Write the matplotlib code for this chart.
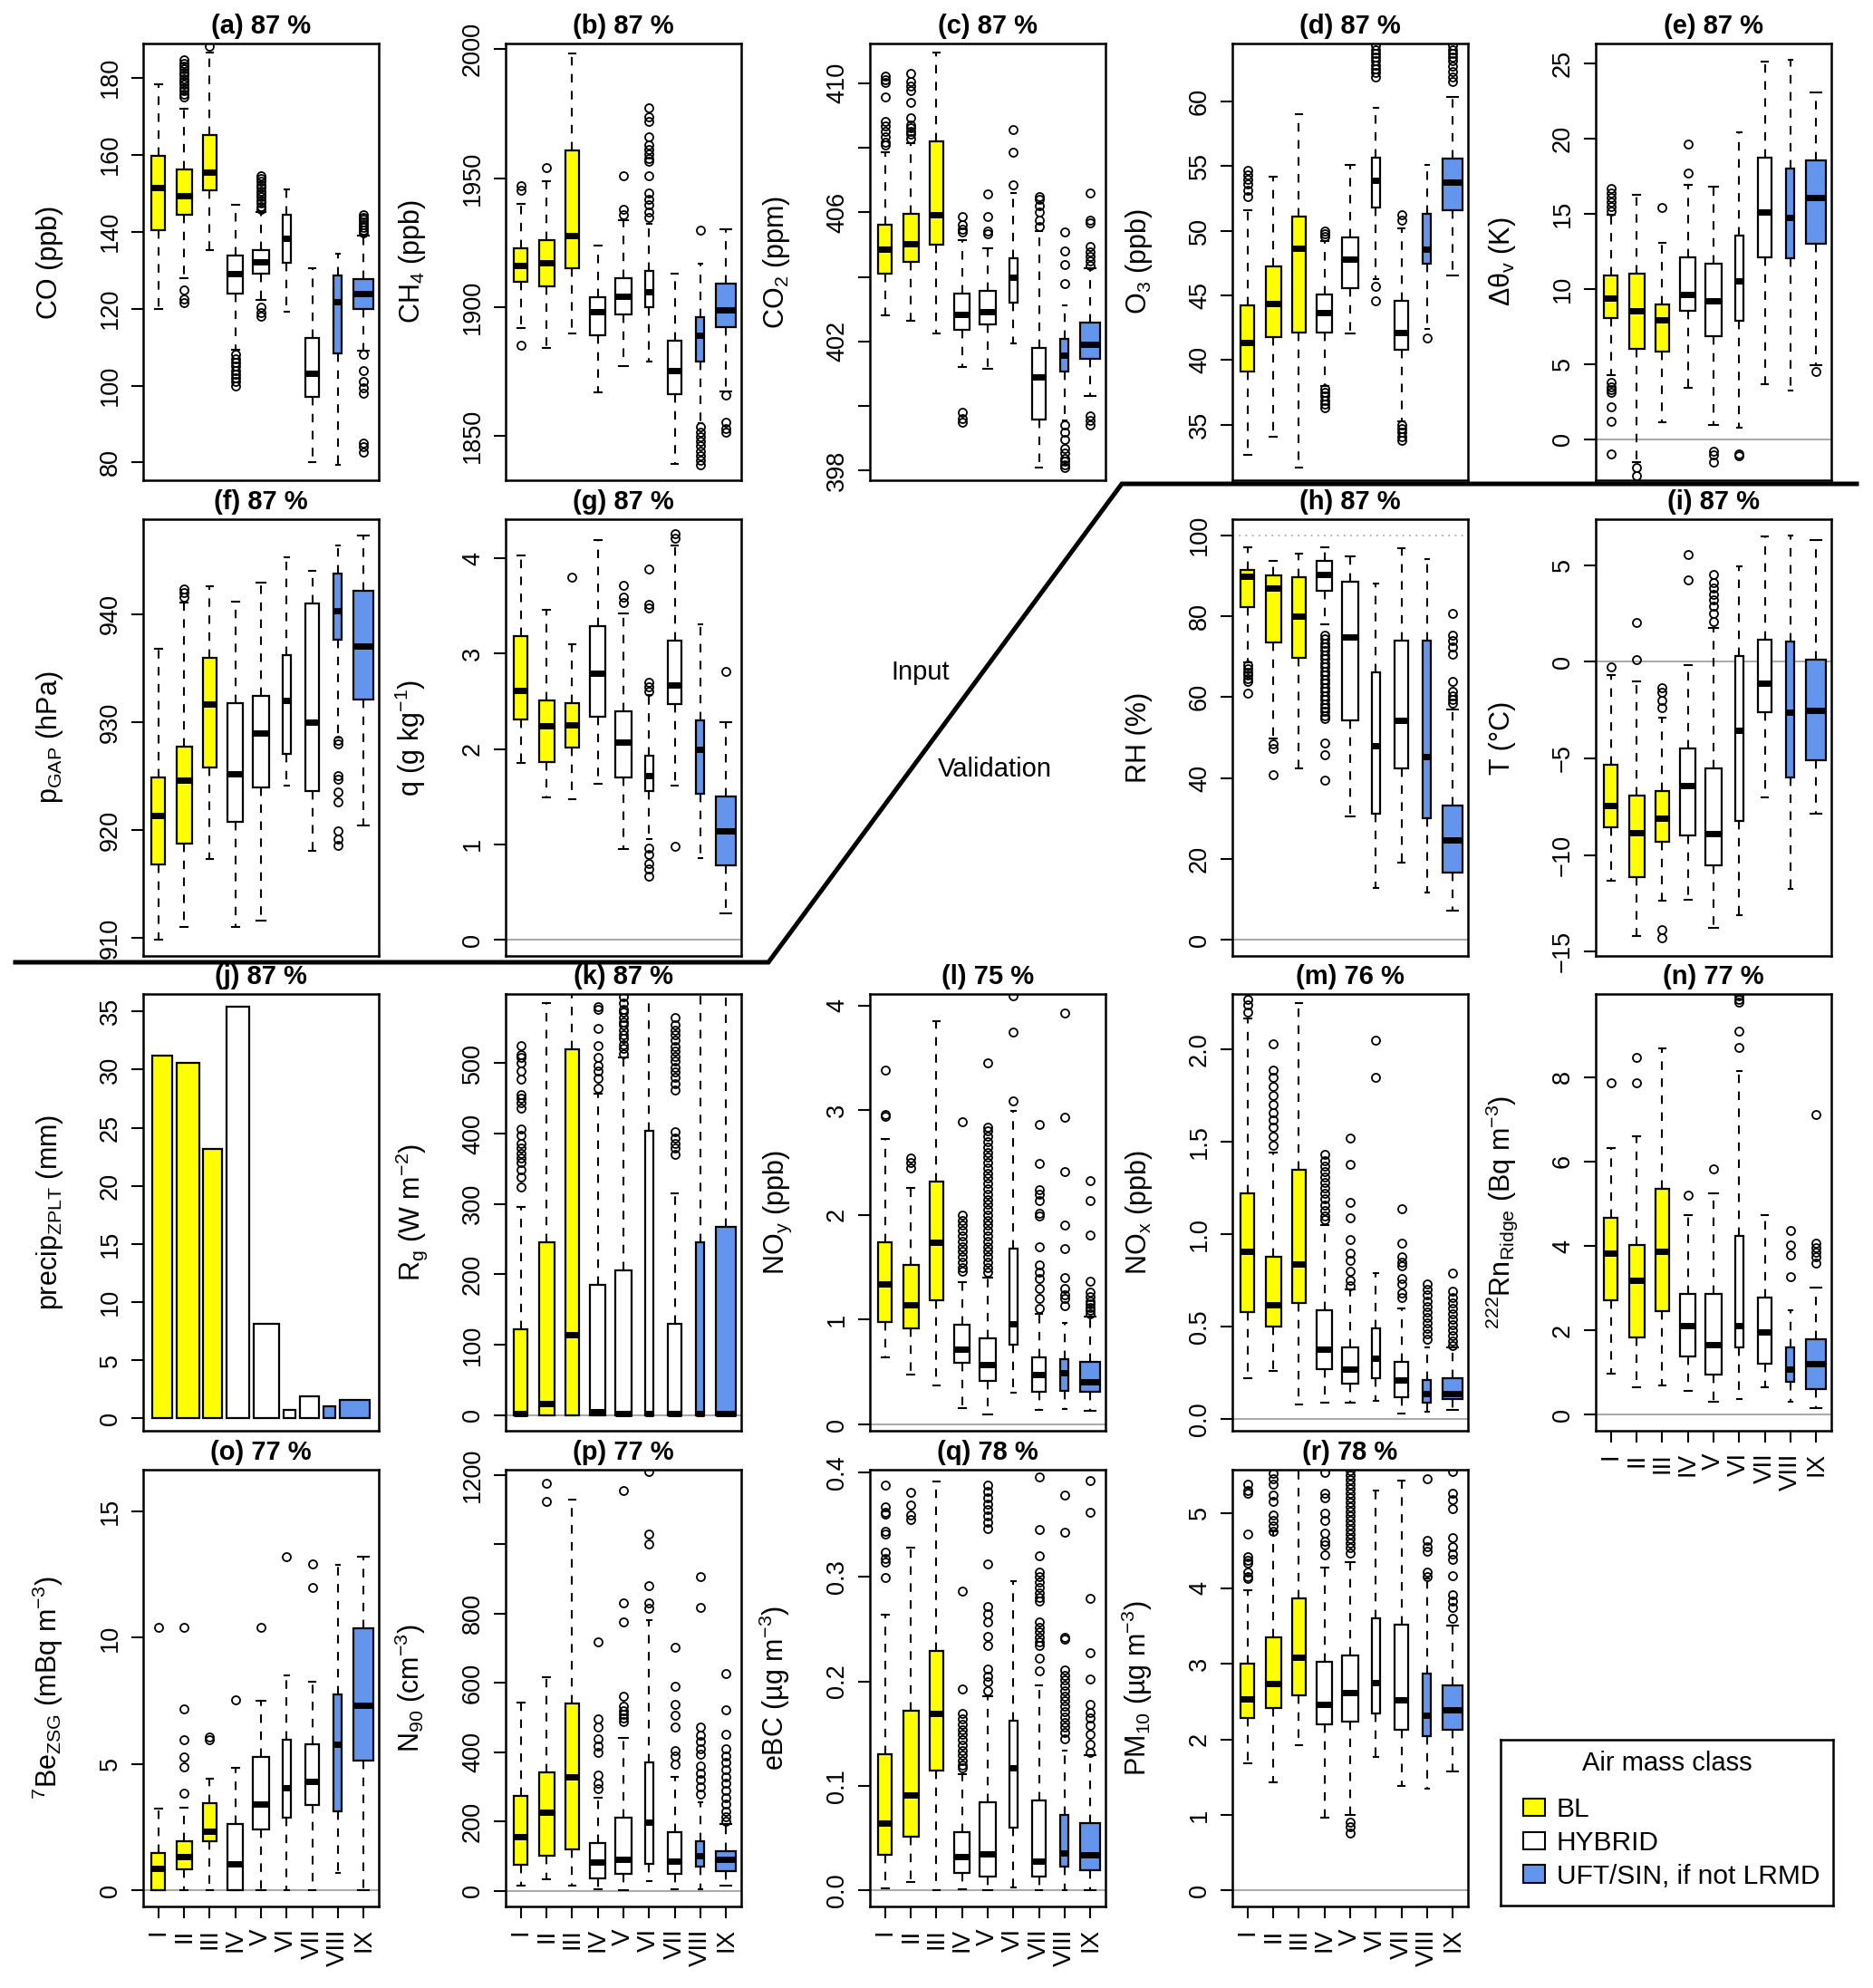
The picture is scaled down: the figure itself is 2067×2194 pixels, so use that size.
import numpy as np
import matplotlib
matplotlib.use("Agg")
import matplotlib.pyplot as plt
from matplotlib.lines import Line2D
from matplotlib.patches import Patch

plt.rcParams['font.family'] = ['Liberation Sans', 'DejaVu Sans']
plt.rcParams['mathtext.fontset'] = 'custom'
plt.rcParams['mathtext.rm'] = 'Liberation Sans'
plt.rcParams['mathtext.it'] = 'Liberation Sans:italic'
plt.rcParams['mathtext.bf'] = 'Liberation Sans:bold'

# ---------------- data ----------------
classes = ["I", "II", "III", "IV", "V", "VI", "VII", "VIII", "IX"]
class_color = ["#FFFF00"] * 3 + ["#FFFFFF"] * 4 + ["#6495ED"] * 2
class_width = [0.66, 0.74, 0.63, 0.74, 0.84, 0.41, 0.63, 0.39, 1.0]   # relative (sqrt n)
legend_names = ["BL", "HYBRID", "UFT/SIN, if not LRMD"]

# each box: (whisker low, Q1, median, Q3, whisker high)
co_stats = [(120.0, 140.5, 151.4, 159.6, 178.4), (127.9, 144.5, 149.3, 156.2, 171.9),
            (135.2, 150.7, 155.5, 165.2, 186.5), (109.3, 123.9, 129.2, 133.9, 147.0),
            (122.3, 129.2, 132.1, 135.2, 145.1), (119.3, 132.0, 138.2, 144.5, 151.0),
            (80.2, 97.0, 103.1, 112.4, 130.4), (79.4, 108.4, 121.9, 128.6, 134.2),
            (109.0, 120.0, 124.0, 127.7, 138.9)]
co_out = [[], [175.0, 175.8, 176.6, 177.4, 178.2, 179.0, 179.8, 180.6, 181.4, 182.2, 183.0, 183.8, 184.6, 124.8, 122.4, 121.6],
          [188.2], [108.2, 107.0, 106.0, 105.0, 104.0, 103.0, 102.0, 101.0, 100.0],
          [145.8, 146.6, 147.4, 148.2, 149.0, 149.8, 150.6, 151.4, 152.2, 153.0, 153.8, 154.5, 120.4, 119.0, 118.0],
          [], [], [], [139.6, 140.3, 141.0, 141.7, 142.4, 143.1, 143.8, 144.3, 108.2, 103.8, 101.0, 99.5, 97.9, 85.1, 84.0, 82.7]]

ch4_stats = [(1892, 1909.9, 1916, 1922.8, 1939.9), (1884.2, 1908.1, 1917.1, 1925.8, 1948.7),
             (1889.9, 1915.1, 1927.8, 1960.9, 1998.5), (1867, 1889, 1898.1, 1903.8, 1923.9),
             (1877, 1897, 1904.2, 1911, 1933.8), (1878.8, 1900, 1906, 1914.1, 1932.4),
             (1839.2, 1866.1, 1875.2, 1886.9, 1912.9), (1855, 1879, 1889.1, 1896, 1916.9),
             (1867.3, 1892.1, 1899, 1909, 1930)]
ch4_out = [[1947.1, 1945.3, 1885], [1954.2], [], [], [1951, 1938, 1935.6],
           [1977.4, 1973.8, 1972, 1966, 1963, 1961.2, 1959.4, 1957.6, 1956.4, 1951, 1944.3, 1941.9, 1939.5, 1937, 1934.6],
           [], [1929.8, 1853.4, 1851.5, 1849.7, 1847.9, 1846, 1844.2, 1842.4, 1840.6, 1838.9],
           [1866, 1855.2, 1852.7, 1851.5]]

co2_stats = [(402.82, 404.1, 404.85, 405.62, 407.85), (402.63, 404.46, 405.04, 405.96, 408.14),
             (402.24, 405.0, 405.93, 408.21, 410.94), (401.2, 402.37, 402.84, 403.47, 405.14),
             (401.15, 402.53, 402.92, 403.57, 404.88), (401.95, 403.19, 404.0, 404.59, 406.6),
             (398.09, 399.58, 400.89, 401.8, 405.43), (399.54, 401.08, 401.58, 402.08, 403.11),
             (400.31, 401.47, 401.9, 402.58, 404.27)]
co2_out = [[410.21, 410.12, 410.02, 409.58, 408.81, 408.67, 408.52, 408.33, 408.18, 408.09],
           [410.29, 410.05, 409.92, 409.78, 409.41, 408.93, 408.71, 408.62, 408.52, 408.43, 408.28],
           [], [405.86, 405.62, 405.48, 405.38, 399.8, 399.6, 399.5],
           [406.57, 405.86, 405.43, 405.33], [408.57, 407.87, 406.86],
           [406.5, 406.4, 406.2, 406.0, 405.75, 405.55],
           [405.38, 404.8, 404.37, 403.79, 399.4, 399.2, 398.96, 398.67, 398.53, 398.38, 398.29, 398.19, 398.09],
           [406.6, 405.76, 405.66, 404.93, 404.78, 404.64, 404.49, 404.35, 399.68, 399.54, 399.4]]

o3_stats = [(32.7, 39.1, 41.33, 44.22, 51.57), (34.1, 41.8, 44.34, 47.23, 54.17),
            (31.69, 42.1, 48.67, 51.08, 58.99), (38.0, 42.1, 43.66, 45.06, 49.2),
            (42.05, 45.54, 47.83, 49.47, 55.06), (46.27, 51.8, 53.9, 55.61, 59.52),
            (35.3, 40.77, 42.1, 44.6, 50.2), (42.41, 47.47, 48.55, 51.28, 55.06),
            (46.55, 51.61, 53.73, 55.59, 60.36)]
o3_out = [[54.63, 54.34, 53.98, 53.61, 53.13, 52.65], [], [],
          [50.0, 49.76, 49.52, 37.8, 37.5, 37.2, 36.9, 36.6, 36.3], [],
          [64.3, 64.0, 63.7, 63.4, 63.1, 62.8, 62.5, 62.2, 61.9, 45.7, 44.6],
          [51.2, 50.8, 35.0, 34.7, 34.4, 34.1, 33.8], [41.7],
          [64.3, 64.0, 63.7, 63.4, 63.1, 62.7, 62.3, 61.9, 61.5]]

dth_stats = [(4.26, 8.06, 9.41, 10.87, 14.92), (-1.54, 5.99, 8.52, 11.03, 16.27),
             (1.14, 5.82, 7.96, 8.94, 13.05), (3.43, 8.54, 9.66, 12.12, 16.96),
             (0.96, 6.86, 9.2, 11.66, 16.83), (0.79, 7.9, 10.56, 13.53, 20.43),
             (3.64, 12.12, 15.13, 18.77, 25.15), (3.22, 12.07, 14.78, 18.04, 25.27),
             (4.94, 12.99, 16.1, 18.56, 23.09)]
dth_out = [[15.2, 15.5, 15.8, 16.1, 16.4, 16.7, 3.8, 3.5, 3.3, 3.1, 2.14, 1.16, -0.98],
           [-1.91, -2.43], [15.44], [19.64, 17.73], [-0.83, -1.08, -1.54], [-0.98, -1.12],
           [], [], [4.53]]

pgap_stats = [(909.85, 916.87, 921.39, 924.87, 936.79), (911.02, 918.74, 924.66, 927.74, 941.08),
              (917.35, 925.8, 931.64, 935.92, 942.58), (911.05, 920.79, 925.2, 931.73, 941.14),
              (911.65, 923.94, 929.0, 932.45, 942.94), (924.09, 927.05, 932.03, 936.22, 945.27),
              (918.06, 923.64, 930.0, 940.99, 944.02), (928.58, 937.63, 940.33, 943.72, 946.32),
              (920.46, 932.09, 937.03, 942.19, 947.31)]
pgap_out = [[], [941.6, 942.0, 942.3], [], [], [], [], [],
            [928.3, 928.0, 925.05, 924.75, 923.55, 922.65, 919.95, 919.2, 918.6], []]

q_stats = [(1.85, 2.31, 2.61, 3.18, 4.03), (1.49, 1.86, 2.24, 2.51, 3.46),
           (1.47, 2.02, 2.25, 2.48, 3.1), (1.64, 2.34, 2.79, 3.29, 4.19),
           (0.95, 1.7, 2.07, 2.4, 3.42), (1.06, 1.56, 1.72, 1.93, 2.57),
           (1.62, 2.47, 2.67, 3.14, 4.13), (0.86, 1.53, 2.0, 2.3, 3.31),
           (0.28, 0.78, 1.14, 1.5, 2.28)]
q_out = [[], [], [3.8], [], [3.72, 3.59, 3.54],
         [3.89, 3.52, 3.48, 2.7, 2.65, 2.6, 0.96, 0.89, 0.8, 0.74, 0.67],
         [4.26, 4.21, 0.98], [], [2.81]]

rh_stats = [(68.6, 82.23, 89.83, 91.43, 97.04), (49.8, 73.58, 86.87, 90.07, 93.67),
            (42.35, 69.82, 80.06, 89.67, 95.44), (78.06, 86.39, 90.23, 93.67, 97.04),
            (30.58, 54.2, 74.86, 88.47, 94.88), (12.73, 31.22, 47.96, 66.05, 88.07),
            (18.98, 42.35, 54.36, 73.98, 96.88), (11.77, 30.02, 45.4, 73.98, 94.08),
            (7.13, 16.57, 24.74, 33.23, 56.84)]
rh_out = [[68.0, 67.0, 66.2, 65.4, 64.6, 63.8, 61.0], [48.4, 47.4, 40.8], [],
          [75.4, 74.4, 73.4, 72.4, 71.4, 70.4, 69.4, 68.4, 67.4, 66.4, 65.4, 64.4, 63.4, 62.4,
           61.4, 60.4, 59.4, 58.4, 57.4, 56.4, 55.4, 54.6, 48.76, 45.8, 39.4],
          [], [], [], [], [80.6, 75.4, 74.0, 72.3, 70.7, 63.8, 61.4, 60.3, 59.5, 58.6]]

t_stats = [(-11.35, -8.58, -7.44, -5.31, -0.7), (-14.2, -11.14, -8.83, -6.94, -1.0),
           (-12.35, -9.3, -8.08, -6.7, -2.88), (-12.3, -8.97, -6.43, -4.47, -0.16),
           (-13.78, -10.56, -8.88, -5.51, 1.73), (-13.14, -8.24, -3.55, 0.28, 4.92),
           (-7.02, -2.63, -1.12, 1.14, 6.51), (-11.76, -5.98, -2.63, 1.03, 6.54),
           (-7.87, -5.09, -2.51, 0.09, 6.31)]
t_out = [[-0.25], [2.03, 0.09], [-1.34, -1.6, -2.0, -2.4, -13.86, -14.28], [5.54, 4.25],
         [4.5, 4.1, 3.8, 3.5, 3.2, 2.9, 2.5, 2.1], [], [], [], []]

precip_total = [31.2, 30.6, 23.15, 35.42, 8.12, 0.7, 1.89, 1.06, 1.61]

rg_stats = [(0, 0, 2, 121.4, 295.3), (0, 0, 15.6, 245.6, 585.0), (0, 0, 114.5, 519.3, 640),
            (0, 0, 4, 184.5, 457.2), (0, 0, 2, 205.2, 508.7), (0, 0, 2, 404.3, 640),
            (0, 0, 2, 129.7, 315.5), (0, 0, 2, 245.6, 640), (0, 0, 2, 267.7, 640)]
rg_out = [[525.3, 512.4, 507.8, 500.9, 489.4, 477.9, 454.9, 450.3, 443.4, 436.5, 406.6, 397.4,
           385.9, 379.0, 372.1, 365.2, 358.3, 349.1, 337.6, 323.8],
          [], [], [465, 478, 489.4, 496, 508, 525, 549, 577, 581],
          [595, 586, 577, 572, 565, 558, 554, 547, 540, 535, 526, 521, 514], [],
          [565, 554, 547, 540, 533, 524, 517, 510, 503, 494, 487, 480, 471, 462, 402, 393, 386, 379, 370],
          [], []]

noy_stats = [(0.64, 0.98, 1.34, 1.74, 2.73), (0.48, 0.92, 1.14, 1.52, 2.26),
             (0.37, 1.19, 1.74, 2.32, 3.85), (0.16, 0.59, 0.72, 0.95, 1.36),
             (0.1, 0.42, 0.57, 0.82, 1.4), (0.3, 0.76, 0.96, 1.68, 2.99),
             (0.14, 0.31, 0.48, 0.64, 1.06), (0.15, 0.32, 0.49, 0.62, 0.97),
             (0.13, 0.31, 0.41, 0.6, 1.03)]
noy_out = [[3.38, 2.96, 2.94], [2.54, 2.5, 2.45], [],
           [2.89, 2.0, 1.95, 1.9, 1.85, 1.8, 1.75, 1.7, 1.65, 1.6, 1.55, 1.5, 1.46],
           [3.45, 2.84, 2.8, 2.75, 2.7, 2.65, 2.6, 2.55, 2.5, 2.45, 2.4, 2.35, 2.3, 2.25, 2.2, 2.15,
            2.1, 2.05, 2.0, 1.95, 1.9, 1.85, 1.8, 1.75, 1.7, 1.65, 1.6, 1.55, 1.5, 1.45],
           [4.09, 3.75, 3.09],
           [2.86, 2.49, 2.24, 2.2, 2.14, 2.02, 1.99, 1.7, 1.52, 1.45, 1.39, 1.3, 1.2, 1.11],
           [3.93, 2.93, 2.41, 1.9, 1.68, 1.4, 1.3, 1.24, 1.2, 1.13],
           [2.33, 2.14, 1.81, 1.37, 1.26, 1.22, 1.18, 1.15, 1.12, 1.09, 1.06]]

nox_stats = [(0.22, 0.58, 0.91, 1.22, 2.17), (0.26, 0.5, 0.62, 0.88, 1.44),
             (0.08, 0.63, 0.84, 1.35, 2.25), (0.09, 0.27, 0.38, 0.59, 1.05),
             (0.09, 0.19, 0.27, 0.39, 0.7), (0.1, 0.22, 0.33, 0.49, 0.79),
             (0.03, 0.12, 0.21, 0.31, 0.6), (0.04, 0.09, 0.14, 0.21, 0.39),
             (0.05, 0.11, 0.14, 0.22, 0.39)]
nox_out = [[2.27, 2.24, 2.2], [2.03, 1.89, 1.85, 1.8, 1.75, 1.7, 1.66, 1.62, 1.58, 1.53, 1.48], [],
           [1.43, 1.4, 1.37, 1.34, 1.31, 1.28, 1.25, 1.22, 1.19, 1.16, 1.13, 1.1, 1.08],
           [1.52, 1.38, 1.17, 1.09, 0.97, 0.9, 0.86, 0.8, 0.75, 0.72], [2.05, 1.85],
           [1.14, 0.95, 0.88, 0.85, 0.83, 0.76, 0.73, 0.68, 0.66],
           [0.73, 0.7, 0.67, 0.64, 0.61, 0.58, 0.55, 0.52, 0.49, 0.46, 0.43],
           [0.79, 0.69, 0.66, 0.63, 0.6, 0.57, 0.54, 0.51, 0.48, 0.45, 0.42, 0.4]]

rn_stats = [(0.97, 2.71, 3.82, 4.66, 6.33), (0.65, 1.83, 3.19, 4.03, 6.6),
            (0.7, 2.45, 3.87, 5.35, 8.69), (0.56, 1.38, 2.11, 2.86, 4.74),
            (0.31, 0.96, 1.65, 2.86, 5.25), (0.37, 1.6, 2.12, 4.23, 8.15),
            (0.64, 1.21, 1.96, 2.77, 4.74), (0.31, 0.77, 1.08, 1.6, 2.48),
            (0.15, 0.6, 1.21, 1.79, 3.01)]
rn_out = [[7.86], [8.47, 7.86], [], [5.2], [5.83], [9.92, 9.85, 9.78, 9.09, 8.7], [],
          [4.36, 4.03, 3.78, 3.26], [7.12, 4.06, 3.95, 3.85, 3.75, 3.59]]

be7_stats = [(0, 0, 0.86, 1.48, 3.24), (0, 0.83, 1.35, 1.96, 3.28), (0, 1.94, 2.33, 3.44, 4.43),
             (0, 0, 1.06, 2.62, 4.84), (0, 2.42, 3.41, 5.28, 7.49), (0, 2.87, 4.07, 5.96, 8.49),
             (0, 3.37, 4.3, 5.77, 8.27), (0.69, 3.14, 5.79, 7.77, 12.87), (0, 5.15, 7.33, 10.39, 13.2)]
be7_out = [[10.4], [10.4, 7.18, 5.96, 5.28, 4.9, 3.86], [6.07, 5.96], [7.53], [10.4], [13.2],
           [12.93, 12.0], [], []]

n90_stats = [(14.9, 75.3, 156.6, 273.5, 543), (32.7, 102, 226, 343, 615.5),
             (14.9, 120, 330, 541, 1128), (6, 35.7, 82.3, 138.8, 270),
             (2, 49.6, 92, 211, 441), (27.8, 79.3, 199, 371.7, 781),
             (5, 50.5, 85, 169.5, 328), (6, 69.4, 102, 144.7, 255.7),
             (14.9, 57.5, 92, 114, 193)]
n90_out = [[], [1177, 1123], [], [719.5, 495.5, 473.8, 439, 418, 400, 335, 310, 295],
           [1155.6, 830.5, 776, 561, 533, 520, 510, 500, 488.6],
           [1210, 1028.7, 1002, 880, 830, 815],
           [701.7, 589.7, 538, 506, 474, 406, 390, 365],
           [907.8, 818.6, 474, 450, 430, 409, 394, 360, 340, 320, 300, 280],
           [627, 523, 451, 409, 390, 370, 350, 330, 310, 290, 270, 250, 230, 215, 201]]

ebc_stats = [(0.002, 0.034, 0.064, 0.130, 0.264), (0.008, 0.051, 0.091, 0.172, 0.328),
             (0.0, 0.115, 0.169, 0.229, 0.391), (0.001, 0.017, 0.032, 0.056, 0.111),
             (0.0, 0.0135, 0.035, 0.084, 0.186), (0.003, 0.06, 0.117, 0.162, 0.296),
             (0.0, 0.013, 0.028, 0.086, 0.196), (0.0, 0.023, 0.036, 0.072, 0.134),
             (0.0, 0.019, 0.034, 0.064, 0.129)]
ebc_out = [[0.388, 0.367, 0.362, 0.36, 0.344, 0.341, 0.324, 0.318, 0.314, 0.299],
           [0.381, 0.369, 0.359, 0.355], [],
           [0.286, 0.193, 0.169, 0.164, 0.159, 0.154, 0.149, 0.144, 0.139, 0.134, 0.129, 0.124, 0.12, 0.117],
           [0.388, 0.382, 0.376, 0.370, 0.364, 0.358, 0.352, 0.346, 0.312, 0.272, 0.265, 0.257,
            0.243, 0.234, 0.212, 0.205, 0.2, 0.191],
           [],
           [0.396, 0.345, 0.32, 0.305, 0.3, 0.295, 0.29, 0.285, 0.28, 0.277, 0.257, 0.252, 0.247,
            0.242, 0.238, 0.234, 0.222, 0.21],
           [0.378, 0.343, 0.242, 0.24, 0.211, 0.206, 0.201, 0.196, 0.191, 0.186, 0.181, 0.176,
            0.171, 0.166, 0.161, 0.156, 0.151, 0.145],
           [0.392, 0.362, 0.279, 0.227, 0.202, 0.178, 0.17, 0.165, 0.158, 0.149, 0.14, 0.132]]

pm10_stats = [(1.68, 2.29, 2.54, 3.0, 3.98), (1.43, 2.42, 2.74, 3.35, 4.75),
              (1.92, 2.59, 3.09, 3.87, 5.57), (0.97, 2.2, 2.46, 3.03, 4.28),
              (1.0, 2.24, 2.62, 3.11, 4.35), (1.77, 2.35, 2.75, 3.6, 5.3),
              (1.38, 2.13, 2.53, 3.52, 5.43), (1.35, 2.04, 2.32, 2.87, 4.13),
              (1.58, 2.13, 2.39, 2.72, 3.51)]
pm10_out = [[5.38, 5.3, 5.26, 4.72, 4.42, 4.37, 4.33, 4.22, 4.16, 4.13],
            [5.52, 5.45, 5.38, 5.24, 5.15, 4.97, 4.9, 4.83, 4.76], [],
            [5.54, 5.26, 5.2, 4.99, 4.9, 4.73, 4.62, 4.57, 4.44],
            [5.56, 5.5, 5.44, 5.38, 5.32, 5.26, 5.2, 5.14, 5.08, 5.02, 4.96, 4.9, 4.84, 4.78,
             4.72, 4.66, 4.6, 4.54, 4.47, 0.91, 0.85, 0.76],
            [], [], [5.45, 4.63, 4.55, 4.49, 4.22, 4.15],
            [5.55, 5.26, 5.18, 5.06, 4.67, 4.55, 4.45, 4.38, 4.17, 3.92, 3.83, 3.75, 3.6]]

# ---------------- layout (pixels of the 2067x2194 canvas) ----------------
W, H = 2067, 2194
col_left = [158, 558, 960, 1360, 1761]
row_top = [48, 573, 1097, 1622]
PW, PH = 260, 482

fig = plt.figure(figsize=(W / 100, H / 100), dpi=100)
fig.patch.set_facecolor("white")


def new_axes(col, row):
    return fig.add_axes([col_left[col] / W, 1 - (row_top[row] + PH) / H, PW / W, PH / H])


def style_axes(ax, title, ylabel, ylim, yticks, yticklabels, xlabels, zero=True):
    ax.set_ylim(*ylim)
    ax.set_yticks(yticks)
    ax.set_yticklabels(yticklabels if yticklabels is not None else [f"{t:g}".replace("-", "\u2212") for t in yticks])
    ax.tick_params(axis="y", direction="out", length=9.5, width=1.5, labelsize=19.5,
                   labelrotation=90, pad=7)
    for t in ax.get_yticklabels():
        t.set_va("center")
    if xlabels:
        ax.set_xticks(range(1, 10))
        ax.set_xticklabels(classes, rotation=90, ha="center", va="top")
        ax.tick_params(axis="x", direction="out", length=9.5, width=1.5, labelsize=20, pad=8)
    else:
        ax.set_xticks([])
    for s in ax.spines.values():
        s.set_linewidth(1.8)
    ax.set_title(title, fontsize=21, fontweight="bold", pad=8)
    ax.set_ylabel(ylabel, fontsize=22, va="baseline", ha="center")
    ax.yaxis.set_label_coords(-0.365, 0.5)
    if zero:
        ax.axhline(0, color="#aaaaaa", lw=1.5, zorder=0.5)


def draw_boxes(ax, stats, out):
    bx = [dict(whislo=s[0], q1=s[1], med=s[2], q3=s[3], whishi=s[4], fliers=o)
          for s, o in zip(stats, out)]
    w = [0.8 * c for c in class_width]
    res = ax.bxp(bx, positions=range(1, 10), widths=w, capwidths=[0.5 * x for x in w],
                 patch_artist=True, manage_ticks=False,
                 boxprops=dict(edgecolor="black", linewidth=1.6),
                 medianprops=dict(color="black", linewidth=5, solid_capstyle="butt"),
                 whiskerprops=dict(color="black", linewidth=1.5, linestyle=(0, (4.5, 4.5))),
                 capprops=dict(color="black", linewidth=1.5),
                 flierprops=dict(marker="o", markerfacecolor="none", markeredgecolor="black",
                                 markersize=6.5, markeredgewidth=1.3))
    for patch, col in zip(res["boxes"], class_color):
        patch.set_facecolor(col)
    ax.set_xlim(0.4, 9.6)


panels = [
    ("a", "87", 0, 0, "CO (ppb)", co_stats, co_out, (75.4, 188.9), [80, 100, 120, 140, 160, 180], None, False, False),
    ("b", "87", 1, 0, "CH$_4$ (ppb)", ch4_stats, ch4_out, (1832.8, 2002.2), [1850, 1900, 1950, 2000], None, False, False),
    ("c", "87", 2, 0, "CO$_2$ (ppm)", co2_stats, co2_out, (397.7, 411.23), [398, 400, 402, 404, 406, 408, 410],
     ["398", "", "402", "", "406", "", "410"], False, False),
    ("d", "87", 3, 0, "O$_3$ (ppb)", o3_stats, o3_out, (30.72, 64.46), [35, 40, 45, 50, 55, 60], None, False, False),
    ("e", "87", 4, 0, "\u0394\u03b8$_\\mathregular{v}$ (K)", dth_stats, dth_out, (-2.74, 26.35), [0, 5, 10, 15, 20, 25], None, False, True),
    ("f", "87", 0, 1, "p$_\\mathregular{GAP}$ (hPa)", pgap_stats, pgap_out, (908.36, 948.78), [910, 920, 930, 940], None, False, False),
    ("g", "87", 1, 1, "q (g kg$^\\mathregular{-1}$)", q_stats, q_out, (-0.17, 4.41), [0, 1, 2, 3, 4], None, False, True),
    ("h", "87", 3, 1, "RH (%)", rh_stats, rh_out, (-4.0, 104.0), [0, 20, 40, 60, 80, 100], None, False, True),
    ("i", "87", 4, 1, "T (\u00b0C)", t_stats, t_out, (-15.23, 7.38), [-15, -10, -5, 0, 5], None, False, True),
    ("k", "87", 1, 2, "R$_\\mathregular{g}$ (W m$^\\mathregular{-2}$)", rg_stats, rg_out, (-22.5, 598.4), [0, 100, 200, 300, 400, 500], None, False, True),
    ("l", "75", 2, 2, "NO$_\\mathregular{y}$ (ppb)", noy_stats, noy_out, (-0.06, 4.11), [0, 1, 2, 3, 4], None, False, True),
    ("m", "76", 3, 2, "NO$_\\mathregular{x}$ (ppb)", nox_stats, nox_out, (-0.063, 2.3), [0, 0.5, 1.0, 1.5, 2.0],
     ["0.0", "0.5", "1.0", "1.5", "2.0"], False, True),
    ("n", "77", 4, 2, "$^\\mathregular{222}$Rn$_\\mathregular{Ridge}$ (Bq m$^\\mathregular{-3}$)", rn_stats, rn_out, (-0.38, 9.97), [0, 2, 4, 6, 8], None, True, True),
    ("o", "77", 0, 3, "$^\\mathregular{7}$Be$_\\mathregular{ZSG}$ (mBq m$^\\mathregular{-3}$)", be7_stats, be7_out, (-0.64, 16.65), [0, 5, 10, 15], None, True, True),
    ("p", "77", 1, 3, "N$_\\mathregular{90}$ (cm$^\\mathregular{-3}$)", n90_stats, n90_out, (-44.6, 1215), [0, 200, 400, 600, 800, 1000, 1200],
     ["0", "200", "400", "600", "800", "", "1200"], True, True),
    ("q", "78", 2, 3, "eBC (\u00b5g m$^\\mathregular{-3}$)", ebc_stats, ebc_out, (-0.0155, 0.4026), [0, 0.1, 0.2, 0.3, 0.4],
     ["0.0", "0.1", "0.2", "0.3", "0.4"], True, True),
    ("r", "78", 3, 3, "PM$_\\mathregular{10}$ (\u00b5g m$^\\mathregular{-3}$)", pm10_stats, pm10_out, (-0.21, 5.57), [0, 1, 2, 3, 4, 5], None, True, True),
]

for letter, pct, col, row, ylabel, stats, out, ylim, yticks, ytl, xl, zero in panels:
    ax = new_axes(col, row)
    draw_boxes(ax, stats, out)
    style_axes(ax, f"({letter}) {pct} %", ylabel, ylim, yticks, ytl, xl, zero)
    if letter == "h":
        ax.axhline(100, color="#aaaaaa", lw=1.3, ls=(0, (1, 3)), zorder=0.5)

# (j) precipitation totals as bars of varying width
ax = new_axes(0, 2)
gap = 0.2 * np.mean(class_width)
right = np.cumsum(np.array(class_width) + gap)
left = right - np.array(class_width)
ax.bar(left, precip_total, width=class_width, align="edge", color=class_color,
       edgecolor="black", linewidth=1.6)
span = right[-1] - left[0]
ax.set_xlim(left[0] - 0.04 * span, right[-1] + 0.04 * span)
style_axes(ax, "(j) 87 %", "precip$_\\mathregular{ZPLT}$ (mm)", (-1.06, 36.5),
           [0, 5, 10, 15, 20, 25, 30, 35], None, False, zero=False)

# legend: framed box with title on top and three class entries
lx0, ly0, lw_, lh_ = 1656, 1920, 367, 183
lax = fig.add_axes([lx0 / W, 1 - (ly0 + lh_) / H, lw_ / W, lh_ / H])
lax.set_xticks([])
lax.set_yticks([])
for s in lax.spines.values():
    s.set_linewidth(1.8)
lax.text(0.5, (ly0 + lh_ - 1946) / lh_, "Air mass class", ha="center", va="center",
         fontsize=21, transform=lax.transAxes)
handles = [Patch(facecolor=c, edgecolor="black", linewidth=1.5)
           for c in ["#FFFF00", "#FFFFFF", "#6495ED"]]
lax.legend(handles, legend_names, loc="upper left",
           bbox_to_anchor=((1683 - lx0) / lw_ - 0.005, (ly0 + lh_ - 1983) / lh_),
           frameon=False, fontsize=21.5, handlelength=0.8, handleheight=0.65,
           labelspacing=0.3, handletextpad=0.42, borderpad=0, borderaxespad=0)

# input / validation separator
px = [17, 848, 1238, 2049]
py = [1062, 1062, 534, 534]
fig.add_artist(Line2D([x / W for x in px], [1 - y / H for y in py], transform=fig.transFigure,
                      color="black", lw=3.6, solid_joinstyle="miter"))
fig.text(1016 / W, 1 - 742 / H, "Input", ha="center", va="center", fontsize=21)
fig.text(1098 / W, 1 - 849 / H, "Validation", ha="center", va="center", fontsize=21)

fig.savefig("out.png", dpi=100, facecolor="white")
